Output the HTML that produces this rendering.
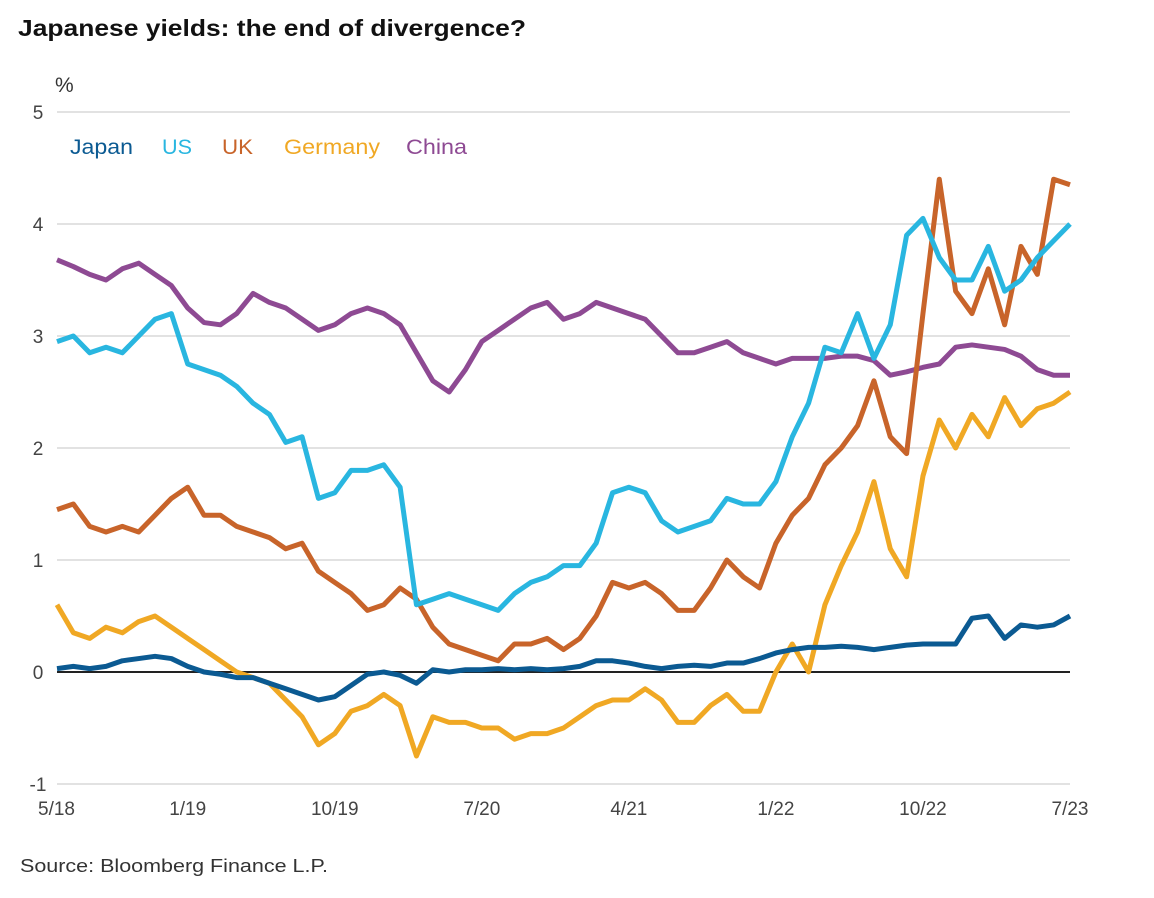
<!DOCTYPE html>
<html><head><meta charset="utf-8"><style>
body{margin:0;background:#fff;width:1154px;height:893px;overflow:hidden;font-family:"Liberation Sans",sans-serif}
</style></head><body>
<svg width="1154" height="893">
<text x="18" y="36" font-size="23" font-weight="bold" fill="#111" textLength="508" lengthAdjust="spacingAndGlyphs">Japanese yields: the end of divergence?</text>
<text x="55" y="92" font-size="21" fill="#333">%</text>
<g id="grid"></g><g id="lines"></g>
<g font-size="21">
<text x="70" y="154" fill="#0b5a92" textLength="63" lengthAdjust="spacingAndGlyphs">Japan</text>
<text x="162" y="154" fill="#29b6e0" textLength="30" lengthAdjust="spacingAndGlyphs">US</text>
<text x="222" y="154" fill="#c8642a" textLength="31" lengthAdjust="spacingAndGlyphs">UK</text>
<text x="284" y="154" fill="#f0a824" textLength="96" lengthAdjust="spacingAndGlyphs">Germany</text>
<text x="406" y="154" fill="#8e4a93" textLength="61" lengthAdjust="spacingAndGlyphs">China</text>
</g>
<text x="20" y="872" font-size="18" fill="#333" textLength="308" lengthAdjust="spacingAndGlyphs">Source: Bloomberg Finance L.P.</text>
</svg>
<script>
const yTicks=[-1,0,1,2,3,4,5];
const xLabels=["5/18","1/19","10/19","7/20","4/21","1/22","10/22","7/23"];
const xLabelMonths=[0,8,17,26,35,44,53,62];
const japan=[0.03,0.05,0.03,0.05,0.1,0.12,0.14,0.12,0.05,0,-0.02,-0.05,-0.05,-0.1,-0.15,-0.2,-0.25,-0.22,-0.12,-0.02,0,-0.03,-0.1,0.02,0,0.02,0.02,0.03,0.02,0.03,0.02,0.03,0.05,0.1,0.1,0.08,0.05,0.03,0.05,0.06,0.05,0.08,0.08,0.12,0.17,0.2,0.22,0.22,0.23,0.22,0.2,0.22,0.24,0.25,0.25,0.25,0.48,0.5,0.3,0.42,0.4,0.42,0.5];
const us=[2.95,3.0,2.85,2.9,2.85,3.0,3.15,3.2,2.75,2.7,2.65,2.55,2.4,2.3,2.05,2.1,1.55,1.6,1.8,1.8,1.85,1.65,0.6,0.65,0.7,0.65,0.6,0.55,0.7,0.8,0.85,0.95,0.95,1.15,1.6,1.65,1.6,1.35,1.25,1.3,1.35,1.55,1.5,1.5,1.7,2.1,2.4,2.9,2.85,3.2,2.8,3.1,3.9,4.05,3.7,3.5,3.5,3.8,3.4,3.5,3.7,3.85,4.0];
const uk=[1.45,1.5,1.3,1.25,1.3,1.25,1.4,1.55,1.65,1.4,1.4,1.3,1.25,1.2,1.1,1.15,0.9,0.8,0.7,0.55,0.6,0.75,0.65,0.4,0.25,0.2,0.15,0.1,0.25,0.25,0.3,0.2,0.3,0.5,0.8,0.75,0.8,0.7,0.55,0.55,0.75,1.0,0.85,0.75,1.15,1.4,1.55,1.85,2.0,2.2,2.6,2.1,1.95,3.2,4.4,3.4,3.2,3.6,3.1,3.8,3.55,4.4,4.35];
const germany=[0.6,0.35,0.3,0.4,0.35,0.45,0.5,0.4,0.3,0.2,0.1,0,-0.05,-0.1,-0.25,-0.4,-0.65,-0.55,-0.35,-0.3,-0.2,-0.3,-0.75,-0.4,-0.45,-0.45,-0.5,-0.5,-0.6,-0.55,-0.55,-0.5,-0.4,-0.3,-0.25,-0.25,-0.15,-0.25,-0.45,-0.45,-0.3,-0.2,-0.35,-0.35,0,0.25,0,0.6,0.95,1.25,1.7,1.1,0.85,1.75,2.25,2.0,2.3,2.1,2.45,2.2,2.35,2.4,2.5];
const china=[3.68,3.62,3.55,3.5,3.6,3.65,3.55,3.45,3.25,3.12,3.1,3.2,3.38,3.3,3.25,3.15,3.05,3.1,3.2,3.25,3.2,3.1,2.85,2.6,2.5,2.7,2.95,3.05,3.15,3.25,3.3,3.15,3.2,3.3,3.25,3.2,3.15,3.0,2.85,2.85,2.9,2.95,2.85,2.8,2.75,2.8,2.8,2.8,2.82,2.82,2.78,2.65,2.68,2.72,2.75,2.9,2.92,2.9,2.88,2.82,2.7,2.65,2.65];
const X0=57,X1=1070,Y0=672,PX=112;
const xs=m=>X0+(X1-X0)*m/62;
const ys=v=>Y0-v*PX;
const NS="http://www.w3.org/2000/svg";
const grid=document.getElementById('grid');
yTicks.forEach(t=>{
  const l=document.createElementNS(NS,'line');
  l.setAttribute('x1',X0);l.setAttribute('x2',X1);l.setAttribute('y1',ys(t));l.setAttribute('y2',ys(t));
  l.setAttribute('stroke',t===0?'#222':'#d8d8d8');l.setAttribute('stroke-width',t===0?2:1.5);
  
  
  grid.appendChild(l);
  const tx=document.createElementNS(NS,'text');
  tx.setAttribute('x',38);tx.setAttribute('y',ys(t)+7);tx.setAttribute('font-size',19);tx.setAttribute('fill','#444');tx.setAttribute('text-anchor','middle');
  tx.textContent=t;
  
  
  grid.appendChild(tx);
});
xLabels.forEach((s,i)=>{
  const tx=document.createElementNS(NS,'text');
  tx.setAttribute('x',xs(xLabelMonths[i])+(i===0?-19:0));tx.setAttribute('y',815);tx.setAttribute('font-size',19);tx.setAttribute('fill','#444');tx.setAttribute('text-anchor',i===0?'start':'middle');
  tx.textContent=s;
  
  
  grid.appendChild(tx);
});
const lines=document.getElementById('lines');
[["china",china,"#8e4a93"],["germany",germany,"#f0a824"],["uk",uk,"#c8642a"],["us",us,"#29b6e0"],["japan",japan,"#0b5a92"]].forEach(([n,d,c])=>{
  const p=document.createElementNS(NS,'polyline');
  p.setAttribute('points',d.map((v,i)=>xs(i)+','+ys(v)).join(' '));
  p.setAttribute('fill','none');p.setAttribute('stroke',c);p.setAttribute('stroke-width',5);p.setAttribute('stroke-linejoin','round');
  
  
  lines.appendChild(p);
});
</script>
</body></html>
